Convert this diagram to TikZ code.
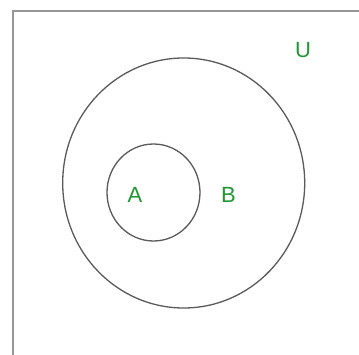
\documentclass[tikz,border=0pt]{standalone}
\usepackage{fontspec}
\setmainfont{Liberation Sans}
\definecolor{setgreen}{RGB}{34,150,52}
\definecolor{framegray}{RGB}{150,150,150}
\definecolor{circgray}{RGB}{90,90,90}
\begin{document}
\begin{tikzpicture}[x=1pt,y=-1pt,
  lbl/.style={text=setgreen,font=\fontsize{22}{22}\selectfont,inner sep=0pt,anchor=center},
  setline/.style={draw=circgray,line width=1.3pt}]
\useasboundingbox (0,0) rectangle (359,355);
\fill[white] (0,0) rectangle (359,355);
\draw[framegray,line width=2.2pt] (13,360) -- (13,11) -- (365,11);
\draw[setline] (183.7,183) ellipse [x radius=121, y radius=125];
\draw[setline] (153.5,192.5) ellipse [x radius=46.5, y radius=48.5];
\node[lbl] (U) at (303,50) {U};
\node[lbl] (A) at (135,194.5) {A};
\node[lbl] (B) at (228.5,194.5) {B};
\end{tikzpicture}
\end{document}
